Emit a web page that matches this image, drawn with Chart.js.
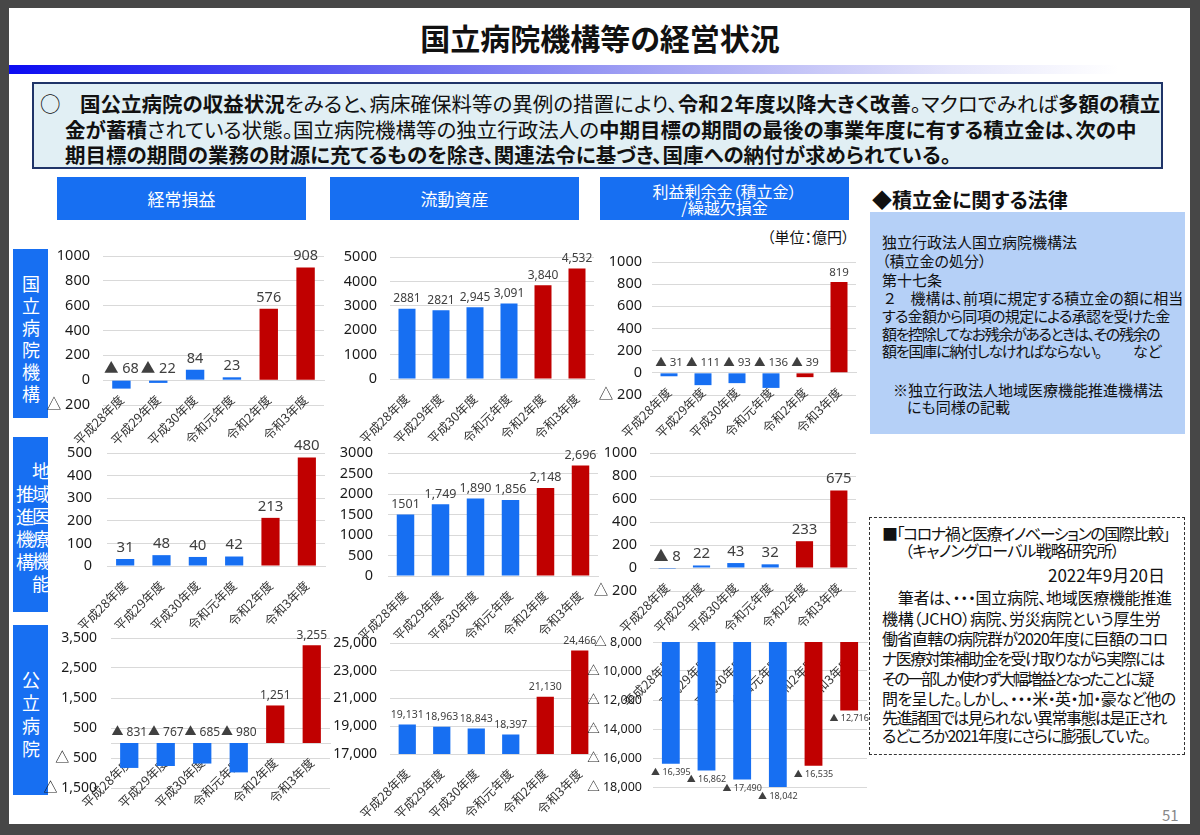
<!DOCTYPE html>
<html lang="ja">
<head>
<meta charset="utf-8">
<title>国立病院機構等の経営状況</title>
<script src="https://cdn.jsdelivr.net/npm/chart.js@4.4.1/dist/chart.umd.min.js"></script>
<style>
body { margin:0; width:1200px; height:835px; background:#474747; position:relative; overflow:hidden;
  font-family:'Noto Sans CJK JP', sans-serif; font-feature-settings:"palt"; color:#111; }
.abs { position:absolute; white-space:nowrap; }
#slide { position:absolute; left:9px; top:8px; width:1181px; height:816px; background:#fff; }
#title { left:0; width:1200px; top:16px; text-align:center; font-size:30px; line-height:42px; font-weight:700; }
#band { left:9px; top:65px; width:1110px; height:9px; background:linear-gradient(to right,#0c0cf2 0%,#5a5af0 30%,#a9a9f4 60%,#e6e6fb 85%,#fff 100%); }
#lead { left:32px; top:82px; width:1131px; height:87px; box-sizing:border-box; border:2px solid #1f3468; background:#e1eff4; }
.ln { font-size:20.5px; line-height:26px; }
.hd { background:#176ff2; color:#fff; text-align:center; top:177px; width:249px; height:43px; font-size:17px; line-height:43px; }
.row { background:#176ff2; left:13px; width:35px; overflow:hidden; }
.row span { position:absolute; color:#fff; font-size:18px; line-height:20px; width:20px; text-align:center; }
#law { left:870px; top:212px; width:315px; height:222px; background:#b5d0f7; }
.lw { font-size:15px; line-height:19px; }
#note { left:869px; top:517px; width:316px; height:238px; box-sizing:border-box; border:1.5px dashed #333; }
.nt { font-size:16px; line-height:20px; letter-spacing:-0.8px; }
canvas { position:absolute; }
</style>
</head>
<body>
<div id="slide"></div>
<div id="title" class="abs">国立病院機構等の経営状況</div>
<div id="band" class="abs"></div>
<div id="lead" class="abs"></div>
<div class="abs ln" style="left:40px;top:90px;">○</div>
<div class="abs ln" style="left:80px;top:90px;"><b>国公立病院の収益状況</b>をみると、病床確保料等の異例の措置により、<b>令和２年度以降大きく改善</b>。マクロでみれば<b>多額の積立</b></div>
<div class="abs ln" style="left:65px;top:116px;"><b>金が蓄積</b>されている状態。国立病院機構等の独立行政法人の<b>中期目標の期間の最後の事業年度に有する積立金は、次の中</b></div>
<div class="abs ln" style="left:65px;top:141px;"><b>期目標の期間の業務の財源に充てるものを除き、関連法令に基づき、国庫への納付が求められている。</b></div>

<div class="abs hd" style="left:57px;">経常損益</div>
<div class="abs hd" style="left:330px;">流動資産</div>
<div class="abs hd" style="left:600px;font-size:16px;line-height:16px;padding-top:6px;height:37px;">利益剰余金（積立金）<br>/繰越欠損金</div>
<div class="abs" style="left:872px;top:186px;font-size:20px;line-height:28px;font-weight:700;">◆積立金に関する法律</div>
<div class="abs" style="left:767px;top:228px;font-size:15px;line-height:18px;">（単位：億円）</div>

<div id="law" class="abs"></div>
<div class="abs lw" style="left:882px;top:232px;">独立行政法人国立病院機構法</div>
<div class="abs lw" style="left:882px;top:251px;">（積立金の処分）</div>
<div class="abs lw" style="left:882px;top:270px;">第十七条</div>
<div class="abs lw" style="left:884px;top:288px;">２　機構は、前項に規定する積立金の額に相当</div>
<div class="abs lw" style="left:882px;top:306px;letter-spacing:-0.7px;">する金額から同項の規定による承認を受けた金</div>
<div class="abs lw" style="left:882px;top:324px;letter-spacing:-1.4px;">額を控除してなお残余があるときは、その残余の</div>
<div class="abs lw" style="left:882px;top:341px;letter-spacing:-1.2px;">額を国庫に納付しなければならない。</div>
<div class="abs lw" style="left:1133px;top:341px;">など</div>
<div class="abs lw" style="left:893px;top:380px;">※独立行政法人地域医療機能推進機構法</div>
<div class="abs lw" style="left:907px;top:397px;">にも同様の記載</div>

<div id="note" class="abs"></div>
<div class="abs nt" style="left:882px;top:523px;letter-spacing:-1.45px;">■「コロナ禍と医療イノベーションの国際比較」</div>
<div class="abs nt" style="left:905px;top:540px;">（キャノングローバル戦略研究所）</div>
<div class="abs" style="right:35px;top:564px;font-size:17px;line-height:22px;">2022年9月20日</div>
<div class="abs nt" style="left:882px;top:587px;letter-spacing:-0.3px;">　筆者は、・・・国立病院、地域医療機能推進</div>
<div class="abs nt" style="left:882px;top:608px;letter-spacing:-0.3px;">機構（JCHO）病院、労災病院という厚生労</div>
<div class="abs nt" style="left:882px;top:628px;letter-spacing:-0.9px;">働省直轄の病院群が2020年度に巨額のコロ</div>
<div class="abs nt" style="left:882px;top:648px;letter-spacing:-1.5px;">ナ医療対策補助金を受け取りながら実際には</div>
<div class="abs nt" style="left:882px;top:668px;letter-spacing:-2.3px;">その一部しか使わず大幅増益となったことに疑</div>
<div class="abs nt" style="left:882px;top:688px;letter-spacing:-0.6px;">問を呈した。しかし、・・・米・英・加・豪など他の</div>
<div class="abs nt" style="left:882px;top:707px;letter-spacing:-1.5px;">先進諸国では見られない異常事態は是正され</div>
<div class="abs nt" style="left:882px;top:725px;letter-spacing:-1.3px;">るどころか2021年度にさらに膨張していた。</div>
<div class="abs" style="left:1162px;top:805px;font-size:15px;line-height:20px;color:#888;">51</div>

<div id="row1" class="abs row" style="top:249px;height:169px;"></div>
<div id="row2" class="abs row" style="top:437px;height:175px;"></div>
<div id="row3" class="abs row" style="top:625px;height:170px;"></div>

<script>
var years = ['平成28年度', '平成29年度', '平成30年度', '令和元年度', '令和2年度', '令和3年度'];

// 経常損益 / 流動資産 / 利益剰余金 (億円)
var keijoKokuritsu = [-68, -22, 84, 23, 576, 908];
var ryudoKokuritsu = [2881, 2821, 2945, 3091, 3840, 4532];
var jouyoKokuritsu = [-31, -111, -93, -136, -39, 819];

var keijoJcho = [31, 48, 40, 42, 213, 480];
var ryudoJcho = [1501, 1749, 1890, 1856, 2148, 2696];
var jouyoJcho = [-8, 22, 43, 32, 233, 675];

var keijoKoritsu = [-831, -767, -685, -980, 1251, 3255];
var ryudoKoritsu = [19131, 18963, 18843, 18397, 21130, 24466];
var jouyoKoritsu = [-16395, -16862, -17490, -18042, -16535, -12716];

// y axis: min, max, step
var ticksA1 = [-200, 1000, 200];
var ticksB1 = [0, 5000, 1000];
var ticksC1 = [-200, 1000, 200];
var ticksA2 = [0, 500, 100];
var ticksB2 = [0, 3000, 500];
var ticksC2 = [-200, 1000, 200];
var ticksA3 = [-1500, 3500, 1000];
var ticksB3 = [17000, 25000, 2000];
var ticksC3 = [-18000, -8000, 2000];

var BLUE = '#176ff2';
var RED = '#c00000';
var barColors = [BLUE, BLUE, BLUE, BLUE, RED, RED];
var NUM_FONT = "'Noto Sans', 'Noto Sans CJK JP', sans-serif";
var JP_FONT = "'Noto Sans CJK JP', sans-serif";

function rowLabel(id, cols) {
	var box = document.getElementById(id);
	cols.forEach(function (c) {
		for (var i = 0; i < c.text.length; i++) {
			var s = document.createElement('span');
			s.innerText = c.text[i];
			s.style.left = (c.x - 10) + 'px';
			s.style.top = (c.y + i * c.step - 10) + 'px';
			box.appendChild(s);
		}
	});
}
rowLabel('row1', [{ text: '国立病院機構', x: 18, y: 34, step: 22 }]);
rowLabel('row2', [{ text: '地域医療機能', x: 28, y: 33, step: 22.6 }, { text: '推進機構', x: 12, y: 56, step: 22.6 }]);
rowLabel('row3', [{ text: '公立病院', x: 18, y: 54, step: 23 }]);

function num(v, comma) {
	var a = Math.abs(v);
	return comma ? a.toLocaleString('en-US') : String(a);
}

function barChart(values, ticks, box, o) {
	var left = box.tickRight - 62;
	var top = box.top - 32;
	var padR = 14, padB = 62;
	var cv = document.createElement('canvas');
	cv.width = box.right + padR - left;
	cv.height = box.bottom + padB - top;
	cv.style.left = left + 'px';
	cv.style.top = top + 'px';
	document.body.appendChild(cv);

	var labelPlugin = {
		id: 'barLabels',
		afterDatasetsDraw: function (chart) {
			var ctx = chart.ctx;
			var ys = chart.scales.y;
			ctx.save();
			ctx.font = o.labelSize + 'px ' + NUM_FONT;
			ctx.fillStyle = '#404040';
			ctx.textAlign = 'center';
			chart.getDatasetMeta(0).data.forEach(function (bar, i) {
				var v = values[i];
				var t = (v < 0 ? '▲ ' : '') + num(v, o.labelComma && (o.plain || []).indexOf(i) < 0);
				if (o.below) {
					ctx.textBaseline = 'top';
					ctx.fillText(t, bar.x, bar.y + 4);
				} else {
					ctx.textBaseline = 'bottom';
					var y = v < 0 ? ys.getPixelForValue(0) : bar.y;
					ctx.fillText(t, bar.x, y - 4);
				}
			});
			ctx.restore();
		}
	};

	new Chart(cv, {
		type: 'bar',
		data: {
			labels: years,
			datasets: [{ data: values, backgroundColor: barColors, barPercentage: 0.5, categoryPercentage: 1 }]
		},
		options: {
			responsive: false,
			animation: false,
			layout: { padding: { top: 32, right: padR, bottom: padB, left: 0 } },
			plugins: { legend: { display: false }, tooltip: { enabled: false } },
			scales: {
				x: {
					position: { y: o.axisAt },
					z: 1,
					grid: { display: false },
					border: { display: true, color: '#d9d9d9' },
					ticks: {
						autoSkip: false, minRotation: 45, maxRotation: 45, padding: 4,
						color: '#333', font: { family: JP_FONT, size: 12.5 }
					}
				},
				y: {
					min: ticks[0], max: ticks[1],
					afterFit: function (s) { s.width = box.left - left; },
					grid: { color: '#d9d9d9', drawTicks: false },
					border: { display: false },
					ticks: {
						stepSize: ticks[2],
						padding: box.left - box.tickRight,
						color: '#1a1a1a',
						font: { family: NUM_FONT, size: o.tickSize || 14.5 },
						callback: function (v) { return (v < 0 ? '△ ' : '') + num(v, o.tickComma); }
					}
				}
			}
		},
		plugins: [labelPlugin]
	});
}

barChart(keijoKokuritsu, ticksA1, { left: 103, right: 324, top: 256, bottom: 405.5, tickRight: 90 },
	{ axisAt: 0, labelSize: 14.5 });
barChart(ryudoKokuritsu, ticksB1, { left: 390, right: 594, top: 257, bottom: 379, tickRight: 377 },
	{ axisAt: 0, labelSize: 12, labelComma: true, plain: [0, 1] });
barChart(jouyoKokuritsu, ticksC1, { left: 652, right: 856, top: 262, bottom: 395, tickRight: 642 },
	{ axisAt: 0, labelSize: 11.5 });

barChart(keijoJcho, ticksA2, { left: 107, right: 325, top: 453, bottom: 566, tickRight: 92 },
	{ axisAt: 0, labelSize: 15 });
barChart(ryudoJcho, ticksB2, { left: 388, right: 598, top: 453, bottom: 576, tickRight: 373 },
	{ axisAt: 0, labelSize: 12.5, labelComma: true, plain: [0] });
barChart(jouyoJcho, ticksC2, { left: 650, right: 856, top: 453, bottom: 591, tickRight: 637 },
	{ axisAt: 0, labelSize: 15 });

barChart(keijoKoritsu, ticksA3, { left: 111, right: 330, top: 638, bottom: 788, tickRight: 97 },
	{ axisAt: 0, labelSize: 12, labelComma: true, tickComma: true, tickSize: 14 });
barChart(ryudoKoritsu, ticksB3, { left: 390, right: 597, top: 643, bottom: 754, tickRight: 377 },
	{ axisAt: 17000, labelSize: 10.5, labelComma: true, tickComma: true, tickSize: 14 });
barChart(jouyoKoritsu, ticksC3, { left: 653, right: 867, top: 642, bottom: 787, tickRight: 642 },
	{ axisAt: -8000, labelSize: 9, labelComma: true, tickComma: true, below: true, tickSize: 12.5 });
</script>
</body>
</html>
